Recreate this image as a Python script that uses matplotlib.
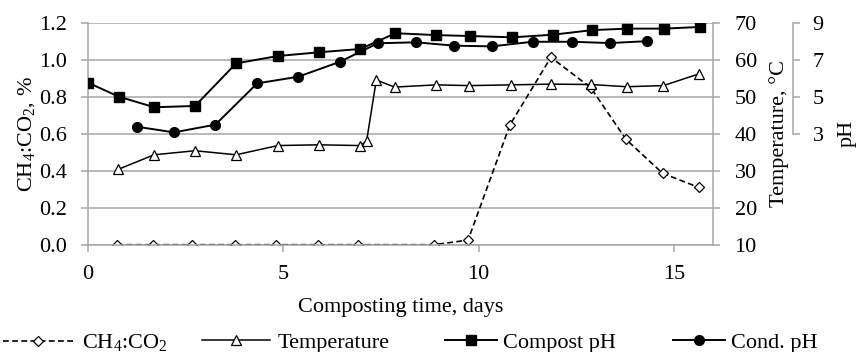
import matplotlib.pyplot as plt

plt.rcParams.update({'font.family': 'Liberation Serif', 'font.size': 16,
                     'mathtext.fontset': 'custom',
                     'mathtext.rm': 'Liberation Serif',
                     'mathtext.it': 'Liberation Serif:italic'})

# CH4:CO2 ratio (left axis)
ch4_days = [0.75, 1.67, 2.67, 3.75, 4.82, 5.89, 6.92, 8.87, 9.73, 10.8, 11.85,
            12.87, 13.77, 14.71, 15.63]
ch4_ratio = [0, 0, 0, 0, 0, 0, 0, 0, 0.025, 0.647, 1.013, 0.849, 0.57, 0.386,
             0.31]

# temperature, degC
temp_days = [0.78, 1.69, 2.74, 3.79, 4.86, 5.91, 6.95, 7.13, 7.38, 7.85, 8.91,
             9.76, 10.84, 11.86, 12.87, 13.79, 14.73, 15.65]
temp_c = [30.4, 34.3, 35.4, 34.3, 36.8, 37.0, 36.8, 37.9, 54.5, 52.6, 53.2,
          53.0, 53.2, 53.4, 53.3, 52.7, 53.0, 56.2]

# compost pH
cph_days = [0, 0.79, 1.70, 2.74, 3.79, 4.86, 5.91, 6.97, 7.87, 8.92, 9.79,
            10.86, 11.9, 12.91, 13.81, 14.75, 15.67]
cph = [5.76, 5.0, 4.43, 4.5, 6.8, 7.2, 7.4, 7.58, 8.43, 8.33, 8.28, 8.21,
       8.35, 8.6, 8.68, 8.68, 8.77]

# condensate pH
dph_days = [1.25, 2.2, 3.26, 4.33, 5.38, 6.44, 7.42, 8.4, 9.37, 10.33, 11.38,
            12.38, 13.36, 14.3]
dph = [3.38, 3.07, 3.49, 5.72, 6.08, 6.88, 7.89, 7.94, 7.76, 7.72, 7.97, 7.97,
       7.9, 8.0]

grey = '#a6a6a6'

fig = plt.figure(figsize=(8.58, 3.52), dpi=100)
ax = fig.add_axes([0.1026, 0.3048, 0.7284, 0.6307])
ax.set_xlim(0, 16)
ax.set_ylim(0, 1.2)
ax.set_xticks([0, 5, 10, 15])
ax.set_yticks([0, 0.2, 0.4, 0.6, 0.8, 1.0, 1.2])
ax.yaxis.set_major_formatter('{x:.1f}')
ax.yaxis.grid(True, color=grey, lw=1.1)
ax.set_axisbelow(True)
for s in ['top', 'right']:
    ax.spines[s].set_visible(False)
for s in ['left', 'bottom']:
    ax.spines[s].set_color(grey)
    ax.spines[s].set_linewidth(1.1)
ax.tick_params(axis='both', color=grey, width=1.1, length=5)
ax.tick_params(axis='y', pad=10)
ax.tick_params(axis='x', pad=9.5)
ax.set_xlabel('Composting time, days', labelpad=10)
ax.set_ylabel('CH$_\\mathrm{4}$:CO$_\\mathrm{2}$, %', labelpad=2)

ax2 = ax.twinx()
ax2.set_ylim(10, 70)
ax2.set_yticks(range(10, 71, 10))
for s in ['top', 'left', 'bottom']:
    ax2.spines[s].set_visible(False)
ax2.spines['right'].set_color(grey)
ax2.spines['right'].set_linewidth(1.1)
ax2.tick_params(axis='y', color=grey, width=1.1, length=5, pad=10.5)
ax2.set_ylabel('Temperature, °C', labelpad=9)

ax3 = ax.twinx()
ax3.set_ylim(-3, 9)
ax3.set_yticks([3, 5, 7, 9])
for s in ['top', 'left', 'bottom']:
    ax3.spines[s].set_visible(False)
ax3.spines['right'].set_position(('axes', 1.128))
ax3.spines['right'].set_bounds(3, 9)
ax3.spines['right'].set_color(grey)
ax3.spines['right'].set_linewidth(1.1)
ax3.tick_params(axis='y', color=grey, width=1.1, length=5, pad=9)
ax3.set_ylabel('pH', labelpad=10)

h1, = ax.plot(ch4_days, ch4_ratio, '--', color='black', lw=1.2, marker='D',
              ms=5, mfc='white', mec='black', mew=0.9, dashes=(3.5, 2))
h2, = ax2.plot(temp_days, temp_c, '-', color='black', lw=1.1, marker='^',
               ms=7.5, mfc='white', mec='black', mew=0.9)
h3, = ax3.plot(cph_days, cph, '-', color='black', lw=1.4, marker='s', ms=7)
h4, = ax3.plot(dph_days, dph, '-', color='black', lw=1.4, marker='o', ms=7)

# one legend per entry so each can sit where it does in the original
entries = [(h1, 'CH$_\\mathrm{4}$:CO$_\\mathrm{2}$', 0.0035, 3.15, 0.4),
           (h2, 'Temperature', 0.2354, 3.05, 0.36),
           (h3, 'Compost pH', 0.5186, 2.35, 0.25),
           (h4, 'Cond. pH', 0.7844, 2.35, 0.25)]
for h, lab, xpos, hl, tp in entries:
    fig.legend([h], [lab], loc='center left', bbox_to_anchor=(xpos, 0.026),
               frameon=False, borderpad=0, borderaxespad=0,
               handlelength=hl, handletextpad=tp)

fig.savefig('out.png', dpi=100)
